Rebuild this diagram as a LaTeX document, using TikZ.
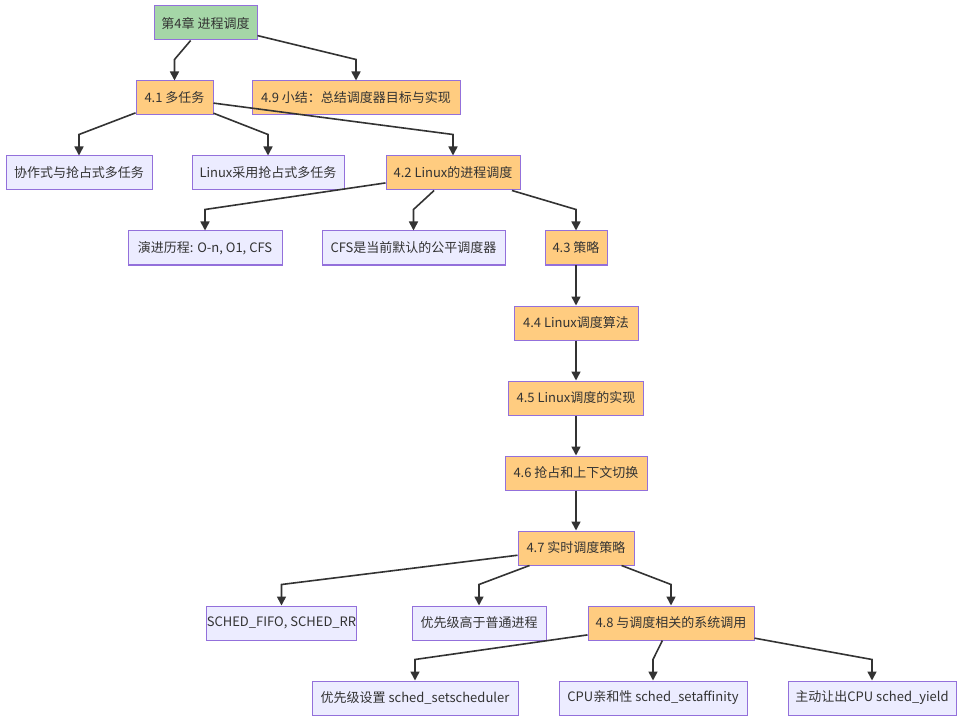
\documentclass[tikz,border=0pt]{standalone}
\usepackage{fontspec}
\setmainfont{Noto Sans CJK SC}
\usetikzlibrary{arrows.meta,calc}
\definecolor{bordc}{HTML}{9370DB}
\definecolor{greenc}{HTML}{A5D6A7}
\definecolor{orangec}{HTML}{FFCC80}
\definecolor{lavc}{HTML}{ECECFF}
\definecolor{txtc}{HTML}{333333}
\definecolor{edgec}{HTML}{333333}
\tikzset{
  box/.style={draw=bordc, line width=1pt, minimum height=34pt, inner sep=0pt,
    text=txtc, font=\fontsize{13}{15}\selectfont, anchor=center},
  rootbox/.style={box, fill=greenc},
  secbox/.style={box, fill=orangec},
  leafbox/.style={box, fill=lavc},
  edge/.style={draw=edgec, line width=1.6pt, -{Triangle[length=9pt,width=9pt]}}
}
\newcommand\edgeto[2]{\draw[edge] (#1) -- ([yshift=21pt]#2.north) -- (#2.north);}
\begin{document}
\begin{tikzpicture}[x=1pt,y=-1pt]
\useasboundingbox (0,0) rectangle (964,722);
\fill[white] (0,0) rectangle (964,722);
\node[rootbox, minimum width=103pt] (root) at (205.5,23) {第4章 进程调度};
\node[secbox, minimum width=77pt] (n41) at (174.5,98) {4.1 多任务};
\node[secbox, minimum width=208pt] (n49) at (356,98) {4.9 小结：总结调度器目标与实现};
\node[leafbox, minimum width=146pt] (c1) at (79,173) {协作式与抢占式多任务};
\node[leafbox, minimum width=152pt] (c2) at (268,173) {Linux采用抢占式多任务};
\node[secbox, minimum width=134pt] (n42) at (453,173) {4.2 Linux的进程调度};
\node[leafbox, minimum width=154pt] (d1) at (205,248) {演进历程: O-n, O1, CFS};
\node[leafbox, minimum width=183pt] (d2) at (413.5,248) {CFS是当前默认的公平调度器};
\node[secbox, minimum width=62pt] (n43) at (576,248) {4.3 策略};
\node[secbox, minimum width=124pt] (n44) at (576,323) {4.4 Linux调度算法};
\node[secbox, minimum width=135pt] (n45) at (576,398) {4.5 Linux调度的实现};
\node[secbox, minimum width=142pt] (n46) at (576,473) {4.6 抢占和上下文切换};
\node[secbox, minimum width=116pt] (n47) at (576,548) {4.7 实时调度策略};
\node[leafbox, minimum width=149pt] (e1) at (281.5,623) {SCHED\_FIFO, SCHED\_RR};
\node[leafbox, minimum width=134pt] (e2) at (479,623) {优先级高于普通进程};
\node[secbox, minimum width=166pt] (n48) at (671,623) {4.8 与调度相关的系统调用};
\node[leafbox, minimum width=206pt] (f1) at (415,698) {优先级设置 sched\_setscheduler};
\node[leafbox, minimum width=188pt] (f2) at (653,698) {CPU亲和性 sched\_setaffinity};
\node[leafbox, minimum width=168pt] (f3) at (872,698) {主动让出CPU sched\_yield};
\edgeto{root}{n41}
\edgeto{root}{n49}
\edgeto{n41}{c1}
\edgeto{n41}{c2}
\edgeto{n41}{n42}
\edgeto{n42}{d1}
\edgeto{n42}{d2}
\edgeto{n42}{n43}
\edgeto{n43}{n44}
\edgeto{n44}{n45}
\edgeto{n45}{n46}
\edgeto{n46}{n47}
\edgeto{n47}{e1}
\edgeto{n47}{e2}
\edgeto{n47}{n48}
\edgeto{n48}{f1}
\edgeto{n48}{f2}
\edgeto{n48}{f3}
\end{tikzpicture}
\end{document}
